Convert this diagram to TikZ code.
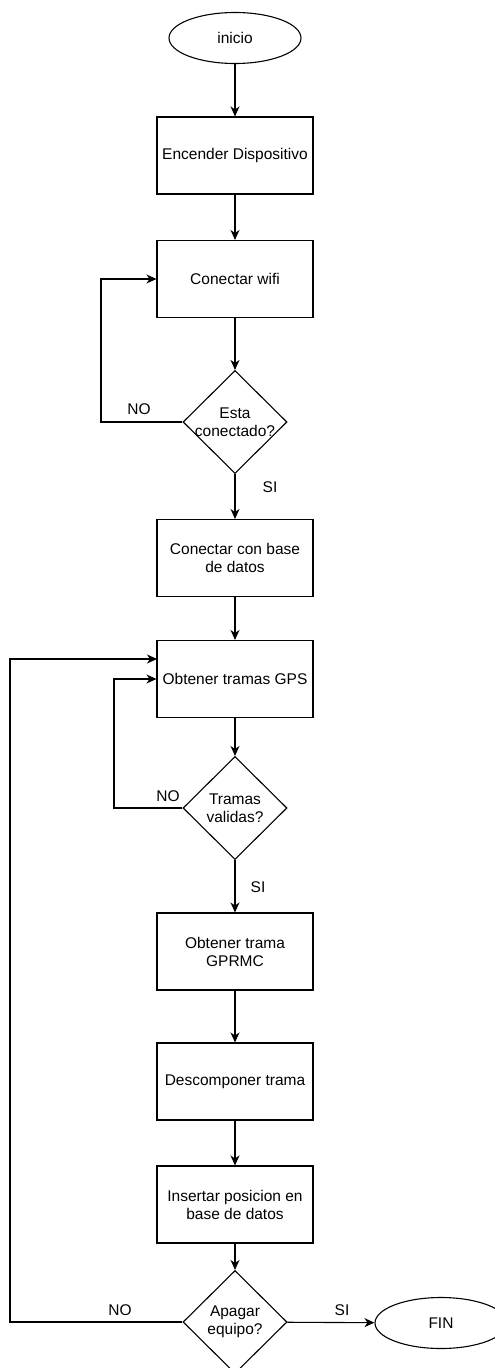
\documentclass[tikz,border=0pt]{standalone}
\usepackage{fontspec}
\setmainfont{Liberation Sans}
\usetikzlibrary{shapes.geometric,arrows.meta}
\begin{document}
\begin{tikzpicture}[x=1pt,y=-1pt,
  every node/.style={font=\fontsize{15.5}{18}\selectfont},
  procbox/.style={draw=black,line width=1.1pt,rectangle,minimum width=156pt,minimum height=77pt,inner sep=0pt,align=center},
  termin/.style={draw=black,line width=1.1pt,ellipse,minimum width=132pt,minimum height=51pt,inner sep=0pt},
  decis/.style={draw=black,line width=1.1pt,diamond,minimum width=104pt,minimum height=103pt,inner sep=0pt},
  dtext/.style={align=center,inner sep=0pt,font=\fontsize{15.5}{18}\selectfont},
  lbl/.style={inner sep=0pt},
  arr/.style={line width=1.1pt,-{Stealth[length=10pt,width=9pt,inset=3pt]}},
  ln/.style={line width=1.1pt}]
\useasboundingbox (0,0) rectangle (495,1368);
\fill[white] (0,0) rectangle (495,1368);

\node[termin] (inicio) at (235,38) {inicio};
\node[procbox] (enc) at (235,155.5) {Encender Dispositivo};
\node[procbox] (wifi) at (235,279) {Conectar wifi};
\node[decis,label={[dtext]center:Esta\\conectado?}] (esta) at (235,422) {};
\node[procbox] (base) at (235,558) {Conectar con base\\de datos};
\node[procbox] (gps) at (235,679) {Obtener tramas GPS};
\node[decis,label={[dtext]center:Tramas\\validas?}] (tramas) at (235,808) {};
\node[procbox] (gprmc) at (235,951.5) {Obtener trama\\GPRMC};
\node[procbox] (desc) at (235,1081.5) {Descomponer trama};
\node[procbox] (ins) at (235,1204.5) {Insertar posicion en\\base de datos};
\node[decis,label={[dtext]center:Apagar\\equipo?}] (apag) at (235,1322) {};
\node[termin] (fin) at (441,1323) {FIN};

\coordinate (gpsin) at (157,659);
\coordinate (c1) at (101,422);
\coordinate (c2) at (114,808);
\coordinate (c3) at (10,1322);

\draw[arr] (inicio) -- (enc);
\draw[arr] (enc) -- (wifi);
\draw[arr] (wifi) -- (esta);
\draw[arr] (esta) -- (base);
\draw[arr] (base) -- (gps);
\draw[arr] (gps) -- (tramas);
\draw[arr] (tramas) -- (gprmc);
\draw[arr] (gprmc) -- (desc);
\draw[arr] (desc) -- (ins);
\draw[arr] (ins) -- (apag);
\draw[arr] (apag) -- (fin);

\draw[arr] (esta.west) -- (c1) |- (wifi.west);
\draw[arr] (tramas.west) -- (c2) |- (gps.west);
\draw[arr] (apag.west) -- (c3) |- (gpsin);

\node[lbl] (no1) at (139,409) {NO};
\node[lbl] (si1) at (270,487) {SI};
\node[lbl] (no2) at (168,796) {NO};
\node[lbl] (si2) at (258,887) {SI};
\node[lbl] (no3) at (120,1310) {NO};
\node[lbl] (si3) at (342,1310) {SI};
\end{tikzpicture}
\end{document}
